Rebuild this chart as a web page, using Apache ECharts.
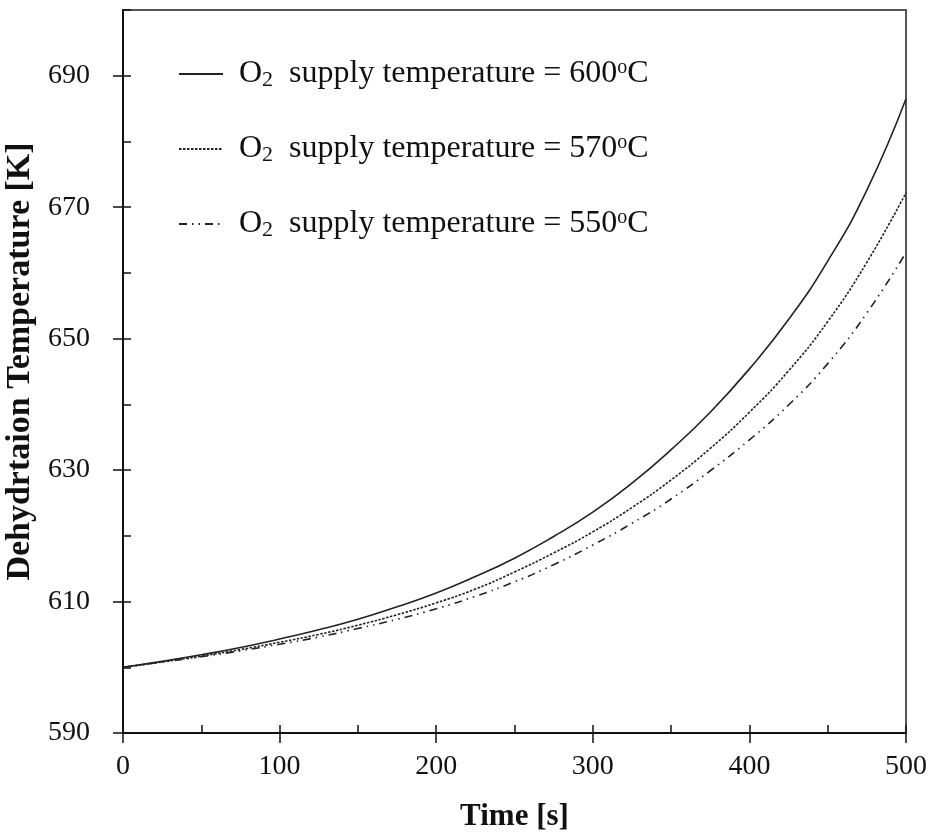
<!DOCTYPE html>
<html>
<head>
<meta charset="utf-8">
<title>Dehydration temperature</title>
<script src="https://cdn.jsdelivr.net/npm/echarts@6/dist/echarts.min.js"></script>
<style>
    html, body {margin: 0; padding: 0; background: #fff;}
    #chart {width: 935px; height: 837px;}
</style>
</head>
<body>
<div id="chart"></div>
<script>
// 时间 [s]
var times = [0, 25, 50, 75, 100, 125, 150, 175, 200, 225, 250, 275, 300, 325, 350, 375, 400, 425, 450, 475, 500];
// O2 供给温度 600 / 570 / 550 ℃ 时的脱水温度 [K]
var temp600 = [600.0, 600.9, 601.9, 603.0, 604.3, 605.7, 607.3, 609.2, 611.3, 613.8, 616.6, 619.9, 623.6, 628.0, 633.1, 638.8, 645.4, 652.9, 661.8, 672.6, 686.5];
var temp570 = [600.0, 600.8, 601.7, 602.7, 603.8, 605.0, 606.4, 608.0, 609.8, 611.9, 614.5, 617.4, 620.6, 624.3, 628.5, 633.3, 638.8, 645.1, 652.6, 661.6, 672.2];
var temp550 = [600.0, 600.8, 601.6, 602.5, 603.5, 604.6, 605.9, 607.3, 608.9, 610.8, 613.0, 615.6, 618.6, 621.9, 625.6, 629.9, 634.6, 639.9, 646.2, 653.9, 663.1];

var supplyTemps = ['600', '570', '550'];
var xTicks = [0, 100, 200, 300, 400, 500];
var yTicks = [590, 610, 630, 650, 670, 690];

var font = 'Liberation Serif';

function pairs(ys) {
    return times.map(function (t, i) {
        return [t, ys[i]];
    });
}

function seriesName(s) {
    return 'O{sub|2}  supply temperature = ' + s + '{sup|o}C';
}

var chart = echarts.init(document.getElementById('chart'));

chart.setOption({
    animation: false,
    backgroundColor: '#fff',
    color: ['#222', '#222', '#222'],
    grid: {
        left: 123, right: 29, top: 10, bottom: 104,
        show: true, borderColor: '#555', borderWidth: 2,
        outerBoundsMode: 'none'
    },
    legend: {
        orient: 'vertical',
        left: 178,
        top: 58,
        padding: 0,
        itemWidth: 44,
        itemHeight: 14,
        itemGap: 42,
        itemStyle: {opacity: 0},
        textStyle: {
            fontFamily: font, fontSize: 32, color: '#111',
            padding: [0, 0, 0, 11],
            rich: {
                sub: {fontFamily: font, fontSize: 22, color: '#111', padding: [12, 0, 0, 0]},
                sup: {fontFamily: font, fontSize: 20, color: '#111', padding: [0, 0, 12, 0]}
            }
        }
    },
    xAxis: [{
        type: 'value', position: 'bottom', min: 0, max: 500, interval: 50,
        axisLine: {lineStyle: {color: '#111', width: 2}},
        axisTick: {inside: true, length: 8, lineStyle: {color: '#111', width: 1.5}},
        axisLabel: {show: false},
        splitLine: {show: false}
    }, {
        type: 'value', position: 'bottom', min: 0, max: 500, interval: 100,
        name: 'Time [s]', nameLocation: 'middle', nameGap: 68,
        nameTextStyle: {fontFamily: font, fontSize: 31, fontWeight: 'bold', color: '#111'},
        axisLine: {show: false},
        axisTick: {inside: false, length: 10, customValues: xTicks, lineStyle: {color: '#111', width: 1.5}},
        axisLabel: {customValues: xTicks, margin: 20, fontFamily: font, fontSize: 28, color: '#111'},
        splitLine: {show: false}
    }],
    yAxis: [{
        type: 'value', position: 'left', min: 590, max: 700, interval: 10,
        axisLine: {lineStyle: {color: '#111', width: 2}},
        axisTick: {inside: true, length: 8, lineStyle: {color: '#111', width: 1.5}},
        axisLabel: {show: false},
        splitLine: {show: false}
    }, {
        type: 'value', position: 'left', min: 590, max: 700, interval: 10,
        name: 'Dehydrtaion Temperature [K]', nameLocation: 'middle', nameGap: 82,
        nameTextStyle: {fontFamily: font, fontSize: 34, fontWeight: 'bold', color: '#111', padding: [0, 0, 0, 20]},
        axisLine: {show: false},
        axisTick: {inside: false, length: 10, customValues: yTicks, lineStyle: {color: '#111', width: 1.5}},
        axisLabel: {customValues: yTicks, margin: 33, fontFamily: font, fontSize: 28, color: '#111'},
        splitLine: {show: false}
    }],
    series: [{
        name: seriesName(supplyTemps[0]),
        type: 'line', smooth: true, symbol: 'none',
        data: pairs(temp600),
        itemStyle: {color: '#222'},
        lineStyle: {color: '#222', width: 1.6, type: 'solid'}
    }, {
        name: seriesName(supplyTemps[1]),
        type: 'line', smooth: true, symbol: 'none',
        data: pairs(temp570),
        itemStyle: {color: '#222'},
        lineStyle: {color: '#222', width: 1.6, type: [2.5, 1.5]}
    }, {
        name: seriesName(supplyTemps[2]),
        type: 'line', smooth: true, symbol: 'none',
        data: pairs(temp550),
        itemStyle: {color: '#222'},
        lineStyle: {color: '#222', width: 1.6, type: [8, 5, 1.5, 5, 1.5, 5]}
    }]
});
</script>
</body>
</html>
